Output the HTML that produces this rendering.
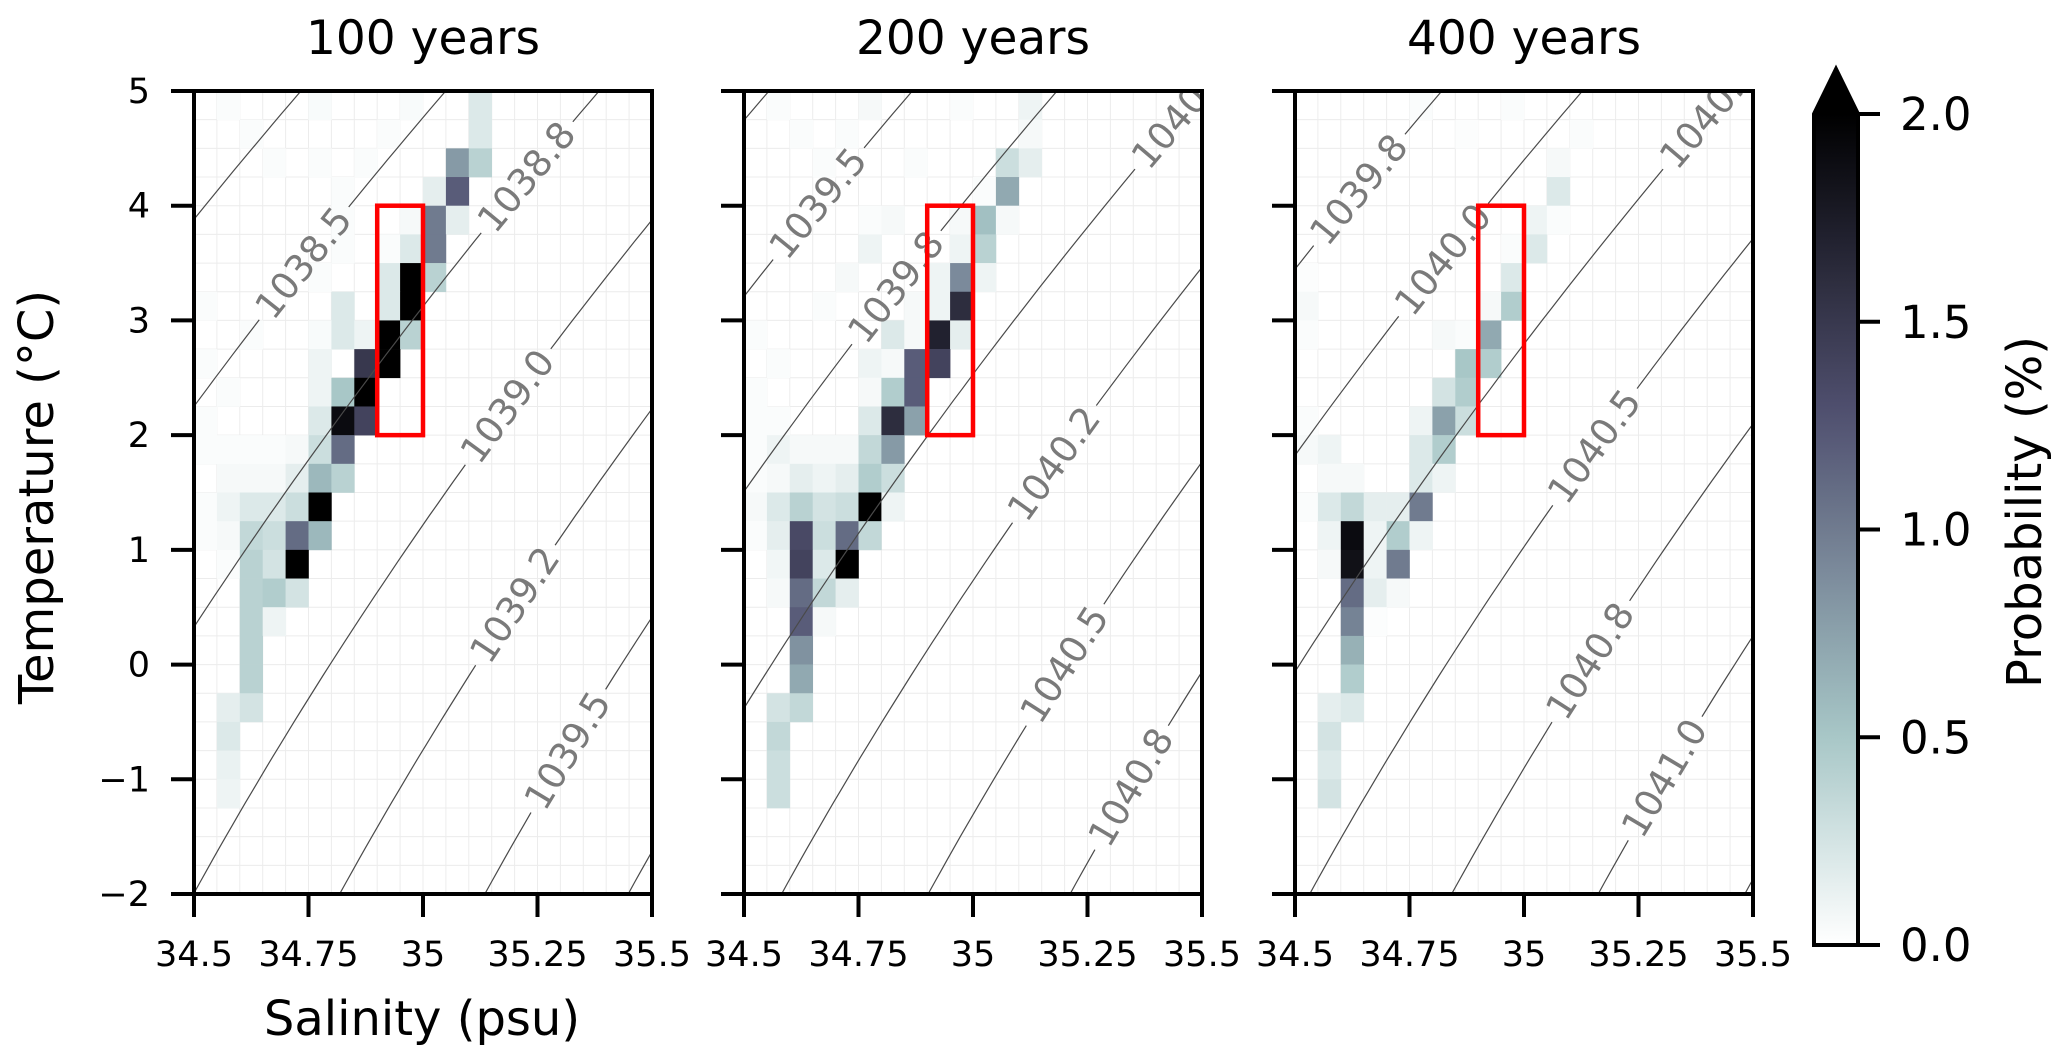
<!DOCTYPE html>
<html><head><meta charset="utf-8">
<style>
html,body{margin:0;padding:0;background:#fff;}
svg{display:block;font-family:"DejaVu Sans","Liberation Sans",sans-serif;}
</style></head>
<body>
<svg id="fig" xmlns="http://www.w3.org/2000/svg" width="2067" height="1064" viewBox="0 0 2067 1064">
<rect width="2067" height="1064" fill="#fff"/>
</svg>
<script>
// ---- data ----
const panelTitles = ["100 years","200 years","400 years"];
const xTickValues = [34.5,34.75,35,35.25,35.5];
const xTickLabels = ["34.5","34.75","35","35.25","35.5"];
const yTickValues = [-2,-1,0,1,2,3,4,5];
const yTickLabels = ["\u22122","\u22121","0","1","2","3","4","5"];
const cbTickValues = [0,0.5,1,1.5,2];
const cbTickLabels = ["0.0","0.5","1.0","1.5","2.0"];
const boxSal = [34.9,35.0];
const boxTemp = [2,4];
// cells: [salinity bin start, temperature bin start, probability %]
const cells100 = [
[34.55,4.75,.03],[34.75,4.75,.04],[34.95,4.75,.04],[35.1,4.75,.2],
[34.6,4.5,.03],[34.9,4.5,.03],[35.1,4.5,.2],
[34.65,4.25,.03],[34.75,4.25,.03],[34.85,4.25,.03],[35.05,4.25,.8],[35.1,4.25,.4],
[34.8,4.0,.03],[35.0,4.0,.15],[35.05,4.0,1.2],
[34.8,3.75,.03],[34.95,3.75,.05],[35.0,3.75,1.0],[35.05,3.75,.15],
[34.8,3.5,.03],[34.9,3.5,.03],[34.95,3.5,.2],[35.0,3.5,1.0],
[34.75,3.25,.03],[34.9,3.25,.2],[34.95,3.25,2.0],[35.0,3.25,.4],
[34.5,3.0,.03],[34.8,3.0,.2],[34.9,3.0,.2],[34.95,3.0,2.0],
[34.6,2.75,.03],[34.75,2.75,.04],[34.8,2.75,.2],[34.85,2.75,.1],[34.9,2.75,2.0],[34.95,2.75,.4],
[34.5,2.5,.03],[34.75,2.5,.1],[34.85,2.5,1.5],[34.9,2.5,2.0],
[34.55,2.25,.03],[34.75,2.25,.1],[34.8,2.25,.5],[34.85,2.25,2.0],
[34.5,2.0,.03],[34.75,2.0,.2],[34.8,2.0,1.9],[34.85,2.0,1.4],
[34.5,1.75,.03],[34.55,1.75,.03],[34.6,1.75,.03],[34.65,1.75,.03],[34.7,1.75,.05],[34.75,1.75,.3],[34.8,1.75,1.1],
[34.55,1.5,.05],[34.6,1.5,.05],[34.65,1.5,.05],[34.7,1.5,.15],[34.75,1.5,.6],[34.8,1.5,.4],
[34.5,1.25,.03],[34.55,1.25,.1],[34.6,1.25,.2],[34.65,1.25,.2],[34.7,1.25,.3],[34.75,1.25,2.0],
[34.5,1.0,.03],[34.55,1.0,.05],[34.6,1.0,.35],[34.65,1.0,.3],[34.7,1.0,1.1],[34.75,1.0,.6],
[34.55,0.75,.03],[34.6,0.75,.4],[34.65,0.75,.25],[34.7,0.75,2.0],
[34.6,0.5,.4],[34.65,0.5,.45],[34.7,0.5,.25],
[34.6,0.25,.4],[34.65,0.25,.1],
[34.6,0,.4],[34.6,-0.25,.4],
[34.55,-0.5,.15],[34.6,-0.5,.25],
[34.55,-0.75,.2],[34.55,-1.0,.12],[34.55,-1.25,.1]
];
const cells200 = [
[34.55,4.75,.03],[34.75,4.75,.05],[34.95,4.75,.03],[35.1,4.75,.1],
[34.6,4.5,.03],[34.7,4.5,.03],[35.1,4.5,.05],
[34.65,4.25,.03],[34.85,4.25,.03],[35.05,4.25,.3],[35.1,4.25,.15],
[35.0,4.0,.03],[35.05,4.0,.7],
[34.75,3.75,.03],[34.8,3.75,.05],[34.95,3.75,.05],[35.0,3.75,.55],[35.05,3.75,.05],
[34.75,3.5,.1],[34.95,3.5,.1],[35.0,3.5,.4],
[34.7,3.25,.05],[34.9,3.25,.1],[34.95,3.25,.9],[35.0,3.25,.1],
[34.65,3.0,.03],[34.85,3.0,.05],[34.9,3.0,.1],[34.95,3.0,1.6],
[34.5,2.75,.03],[34.8,2.75,.2],[34.85,2.75,.05],[34.9,2.75,1.7],[34.95,2.75,.15],
[34.55,2.5,.03],[34.75,2.5,.1],[34.8,2.5,.05],[34.85,2.5,1.2],[34.9,2.5,1.4],
[34.5,2.25,.03],[34.75,2.25,.05],[34.8,2.25,.45],[34.85,2.25,1.2],
[34.5,2.0,.03],[34.55,2.0,.03],[34.75,2.0,.2],[34.8,2.0,1.6],[34.85,2.0,.75],
[34.5,1.75,.03],[34.55,1.75,.1],[34.6,1.75,.05],[34.65,1.75,.05],[34.7,1.75,.05],[34.75,1.75,.35],[34.8,1.75,.8],
[34.5,1.5,.03],[34.55,1.5,.05],[34.6,1.5,.15],[34.65,1.5,.1],[34.7,1.5,.15],[34.75,1.5,.45],[34.8,1.5,.3],
[34.5,1.25,.05],[34.55,1.25,.2],[34.6,1.25,.4],[34.65,1.25,.25],[34.7,1.25,.3],[34.75,1.25,2.0],[34.8,1.25,.1],
[34.5,1.0,.03],[34.55,1.0,.15],[34.6,1.0,1.35],[34.65,1.0,.3],[34.7,1.0,1.1],[34.75,1.0,.35],
[34.55,0.75,.08],[34.6,0.75,1.4],[34.65,0.75,.2],[34.7,0.75,2.0],
[34.55,0.5,.05],[34.6,0.5,1.1],[34.65,0.5,.35],[34.7,0.5,.15],
[34.6,0.25,1.2],[34.65,0.25,.05],
[34.6,0,.85],[34.6,-0.25,.7],
[34.55,-0.5,.25],[34.6,-0.5,.35],
[34.55,-0.75,.35],[34.55,-1.0,.3],[34.55,-1.25,.3]
];
const cells400 = [
[34.75,4.75,.03],[34.95,4.75,.03],
[34.85,4.5,.02],[35.1,4.5,.03],
[35.05,4.25,.05],
[35.05,4.0,.2],
[35.0,3.75,.1],[35.05,3.75,.03],
[34.95,3.5,.03],[35.0,3.5,.2],
[34.5,3.25,.02],[34.95,3.25,.2],
[34.5,3.0,.05],[34.9,3.0,.05],[34.95,3.0,.45],
[34.5,2.75,.03],[34.8,2.75,.05],[34.85,2.75,.03],[34.9,2.75,.7],
[34.85,2.5,.5],[34.9,2.5,.45],
[34.8,2.25,.25],[34.85,2.25,.45],
[34.5,2.0,.03],[34.75,2.0,.1],[34.8,2.0,.75],[34.85,2.0,.3],
[34.5,1.75,.05],[34.55,1.75,.1],[34.75,1.75,.2],[34.8,1.75,.45],
[34.55,1.5,.05],[34.6,1.5,.05],[34.75,1.5,.2],[34.8,1.5,.1],
[34.5,1.25,.03],[34.55,1.25,.2],[34.6,1.25,.35],[34.65,1.25,.15],[34.7,1.25,.15],[34.75,1.25,1.0],
[34.55,1.0,.1],[34.6,1.0,1.9],[34.65,1.0,.1],[34.7,1.0,.45],[34.75,1.0,.1],
[34.55,0.75,.05],[34.6,0.75,1.85],[34.65,0.75,.1],[34.7,0.75,1.0],
[34.6,0.5,1.1],[34.65,0.5,.15],[34.7,0.5,.05],
[34.6,0.25,.95],[34.65,0.25,.02],
[34.6,0,.65],[34.6,-0.25,.45],
[34.55,-0.5,.15],[34.6,-0.5,.2],
[34.55,-0.75,.25],[34.55,-1.0,.2],[34.55,-1.25,.25]
];
// isopycnal contours: salinity at T=0 for each drawn level
const contourS0_100 = [33.796,34.112,34.447,34.797,35.116,35.433,35.746,36.07];
const contourS0_200 = [33.617,33.93,34.246,34.56,34.88,35.2,35.51,35.83];
const contourS0_400 = [33.56,33.883,34.19,34.51,34.83,35.14,35.46,35.78];
// contour labels: [text, S0 of its line, temperature of label]
const clabels100 = [["1038.5",34.112,3.5],["1038.8",34.447,4.25],["1039.0",34.797,2.25],["1039.2",35.116,0.52],["1039.5",35.433,-0.75]];
const clabels200 = [["1039.5",33.93,4.02],["1039.8",34.246,3.29],["1040.0",34.56,4.8],["1040.2",34.88,1.75],["1040.5",35.2,0.0],["1040.8",35.51,-1.07]];
const clabels400 = [["1039.8",33.883,4.14],["1040.0",34.19,3.53],["1040.2",34.51,4.8],["1040.5",34.83,1.9],["1040.8",35.14,0.03],["1041.0",35.46,-0.99]];

const allCells = [cells100,cells200,cells400];
const allS0 = [contourS0_100,contourS0_200,contourS0_400];
const allLabels = [clabels100,clabels200,clabels400];

// ---- layout ----
const NS='http://www.w3.org/2000/svg';
const svg=document.getElementById('fig');
const panelX=[194,744,1295], PW=458, PT=91, PB=894;
const sMin=34.5,sMax=35.5,tMin=-2,tMax=5, dS=0.05, dT=0.25;
function mk(tag,attrs,parent){const e=document.createElementNS(NS,tag);for(const k in attrs)e.setAttribute(k,attrs[k]);(parent||svg).appendChild(e);return e;}
function boneR(v){ // matplotlib bone_r
  let x=1-Math.max(0,Math.min(2,v))/2;
  const lerp=(pts)=>{for(let i=1;i<pts.length;i++){if(x<=pts[i][0]){const a=pts[i-1],b=pts[i];return a[1]+(b[1]-a[1])*(x-a[0])/(b[0]-a[0]);}}return 1;};
  const r=lerp([[0,0],[0.746032,0.652778],[1,1]]);
  const g=lerp([[0,0],[0.365079,0.319444],[0.746032,0.777778],[1,1]]);
  const b=lerp([[0,0],[0.365079,0.444444],[1,1]]);
  return `rgb(${Math.round(r*255)},${Math.round(g*255)},${Math.round(b*255)})`;
}
const contourS=(S0,T)=>S0+0.16*T+0.0055*T*T;

const defs=mk('defs',{});
for(let p=0;p<3;p++){
  const x0=panelX[p];
  const xs=s=>x0+(s-sMin)/(sMax-sMin)*PW;
  const yt=t=>PB-(t-tMin)/(tMax-tMin)*(PB-PT);
  const g=mk('g',{});
  
  
  const cp=mk('clipPath',{id:'clip'+p},defs);
  mk('rect',{x:x0,y:PT,width:PW,height:PB-PT},cp);
  const grid=mk('g',{stroke:'#ececec','stroke-width':1,'clip-path':`url(#clip${p})`},g);
   
  for(let s=sMin;s<=sMax+1e-9;s+=dS) mk('line',{x1:xs(s),x2:xs(s),y1:PT,y2:PB},grid);
  for(let t=tMin;t<=tMax+1e-9;t+=dT) mk('line',{x1:x0,x2:x0+PW,y1:yt(t),y2:yt(t)},grid);
  const cg=mk('g',{'clip-path':`url(#clip${p})`},g);
   
  allCells[p].forEach(c=>{
    const r=mk('rect',{x:xs(c[0]),y:yt(c[1]+dT),width:xs(c[0]+dS)-xs(c[0])+0.3,height:yt(c[1])-yt(c[1]+dT)+0.3,fill:boneR(c[2])},cg);
    
    
  });
  const mask=mk('mask',{id:'mask'+p,maskUnits:'userSpaceOnUse',x:0,y:0,width:2067,height:1064},defs);
  mk('rect',{x:0,y:0,width:2067,height:1064,fill:'#fff'},mask);
  const labInfo=allLabels[p].map(l=>{
    const S=contourS(l[1],l[2]);const cx=xs(S),cy=yt(l[2]);
    const dx=(0.16+0.011*l[2])/(sMax-sMin)*PW, dy=-(PB-PT)/(tMax-tMin);
    const ang=Math.atan2(dy,dx)*180/Math.PI;
    mk('rect',{x:cx-72,y:cy-18,width:144,height:36,fill:'#000',transform:`rotate(${ang} ${cx} ${cy})`},mask);
    return {text:l[0],cx,cy,ang};
  });
  const lg=mk('g',{'clip-path':`url(#clip${p})`},g);
  const lg2=mk('g',{mask:`url(#mask${p})`,fill:'none',stroke:'#4a4a4a','stroke-width':1.2},lg);
   
  allS0[p].forEach(S0=>{
    let pts=[];for(let t=-2.3;t<=5.3;t+=0.1)pts.push(xs(contourS(S0,t)).toFixed(1)+','+yt(t).toFixed(1));
    const pl=mk('polyline',{points:pts.join(' ')},lg2);
    
    
  });
  labInfo.forEach(l=>{
    const t=mk('text',{x:l.cx,y:l.cy,'font-size':37,fill:'#7a7a7a','text-anchor':'middle','dominant-baseline':'central',transform:`rotate(${l.ang} ${l.cx} ${l.cy})`},lg);
    t.textContent=l.text;
    
    
  });
  const rb=mk('rect',{x:xs(boxSal[0]),y:yt(boxTemp[1]),width:xs(boxSal[1])-xs(boxSal[0]),height:yt(boxTemp[0])-yt(boxTemp[1]),fill:'none',stroke:'#f00','stroke-width':4.5},g);
   
  const sp=mk('rect',{x:x0,y:PT,width:PW,height:PB-PT,fill:'none',stroke:'#000','stroke-width':4},g);
   
  xTickValues.forEach((v,i)=>{
    mk('line',{x1:xs(v),x2:xs(v),y1:PB,y2:PB+23,stroke:'#000','stroke-width':4},g);
    const t=mk('text',{x:xs(v),y:966,'font-size':35,'text-anchor':'middle',fill:'#000'},g);
    t.textContent=xTickLabels[i];
    
    
  });
  yTickValues.forEach((v,i)=>{
    mk('line',{x1:x0-23,x2:x0,y1:yt(v),y2:yt(v),stroke:'#000','stroke-width':4},g);
    if(p===0){
      const t=mk('text',{x:150,y:yt(v)+12,'font-size':35,'text-anchor':'end',fill:'#000'},g);
      t.textContent=yTickLabels[i];
      
      
    }
  });
  const tt=mk('text',{x:x0+PW/2,y:54,'font-size':47,'text-anchor':'middle',fill:'#000'},g);
  tt.textContent=panelTitles[p];
  
  
}
const xl=mk('text',{x:422,y:1035,'font-size':48,'text-anchor':'middle',fill:'#000'});
xl.textContent='Salinity (psu)';


const yl=mk('text',{x:0,y:0,'font-size':48,'text-anchor':'middle','dominant-baseline':'central',fill:'#000',transform:'translate(37,497) rotate(-90)'});
yl.textContent='Temperature (\u00B0C)';


const cbX=1814,cbW=44,cbTop=114,cbBot=945;
const cby=v=>cbBot-v/2*(cbBot-cbTop);
const grad=mk('linearGradient',{id:'cbgrad',x1:0,y1:1,x2:0,y2:0},defs);
for(let i=0;i<=20;i++){mk('stop',{offset:i/20,'stop-color':boneR(i/10)},grad);}
const cbg=mk('g',{});
 
mk('rect',{x:cbX,y:cbTop,width:cbW,height:cbBot-cbTop,fill:'url(#cbgrad)'},cbg);
mk('path',{d:`M${cbX} ${cbBot} L${cbX} ${cbTop} L${cbX+cbW/2} 69 L${cbX+cbW} ${cbTop} L${cbX+cbW} ${cbBot} Z`,fill:'none',stroke:'#000','stroke-width':4},cbg);
mk('path',{d:`M${cbX} ${cbTop+1} L${cbX+cbW/2} 69 L${cbX+cbW} ${cbTop+1} Z`,fill:'#000'},cbg);
cbTickValues.forEach((v,i)=>{
  mk('line',{x1:cbX+cbW,x2:cbX+cbW+22,y1:cby(v),y2:cby(v),stroke:'#000','stroke-width':4},cbg);
  const t=mk('text',{x:1900,y:cby(v)+16,'font-size':45,fill:'#000'},cbg);
  t.textContent=cbTickLabels[i];
  
  
});
const cl=mk('text',{x:0,y:0,'font-size':48,'text-anchor':'middle','dominant-baseline':'central',fill:'#000',transform:'translate(2025,512) rotate(-90)'});
cl.textContent='Probability (%)';


</script>
</body></html>
